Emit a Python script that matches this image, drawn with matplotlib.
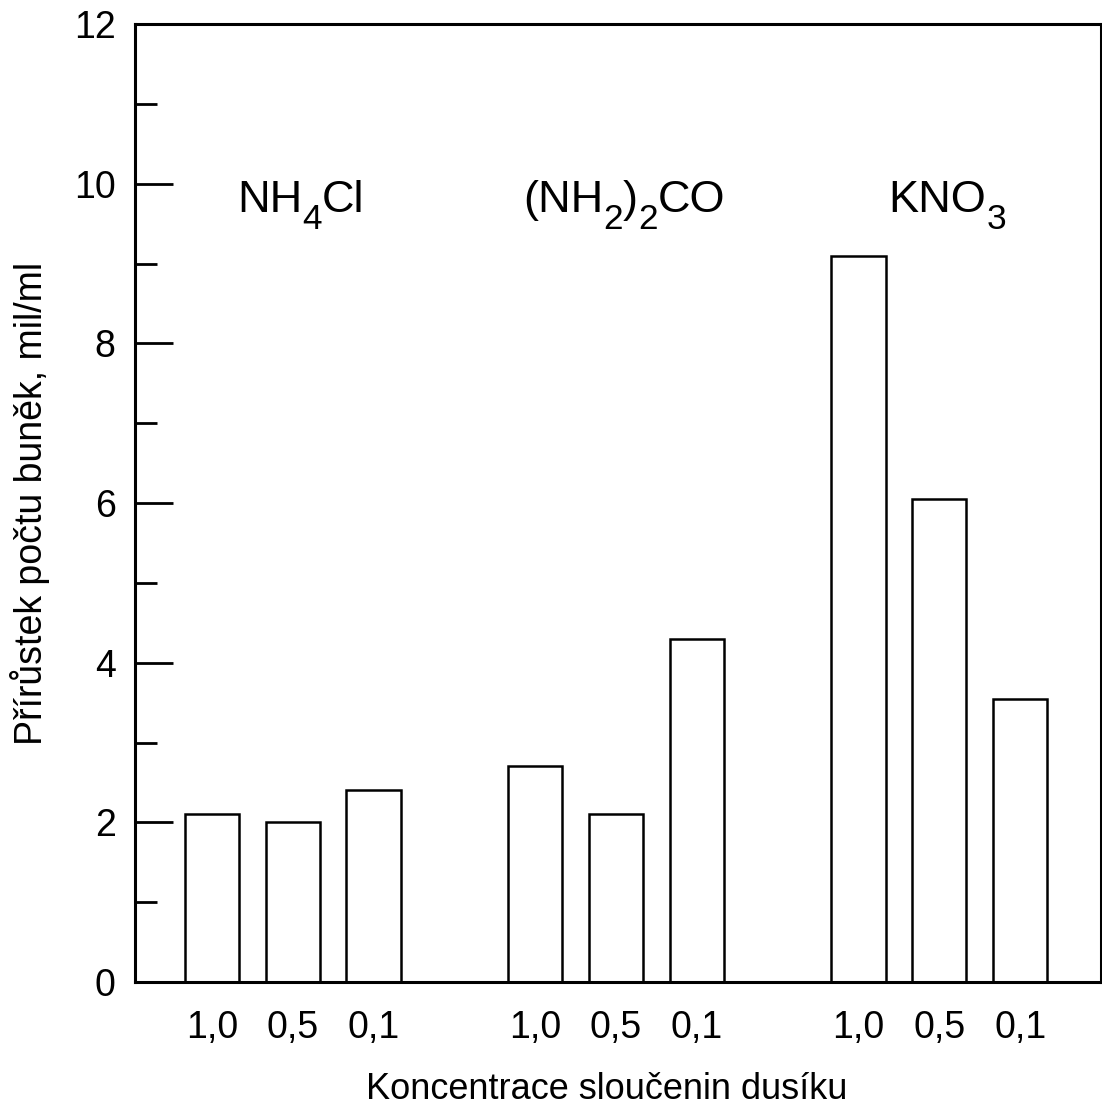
import numpy as np
import matplotlib.pyplot as plt
from matplotlib.transforms import ScaledTranslation

plt.rcParams['font.family'] = ['Liberation Sans', 'DejaVu Sans']

# chemical formulas as (text, is_subscript) pieces
compounds = [
    [('NH', False), ('4', True), ('Cl', False)],
    [('(NH', False), ('2', True), (')', False), ('2', True), ('CO', False)],
    [('KNO', False), ('3', True)],
]
concentrations = ['1,0', '0,5', '0,1']
nh4cl = [2.1, 2.0, 2.4]
urea = [2.7, 2.1, 4.3]
kno3 = [9.1, 6.05, 3.55]
values = [nh4cl, urea, kno3]

fig = plt.figure(figsize=(11.02, 11.10), dpi=100)
ax = fig.add_axes([135 / 1102, 1 - 982 / 1110, 966 / 1102, 958 / 1110])


def chem_label(x, y, parts, size, centre_shift=0):
    r = fig.canvas.get_renderer()
    objs, widths = [], []
    for s, sub in parts:
        t = ax.text(x, y, s, fontsize=size * (0.78 if sub else 1),
                    ha='left', va='baseline')
        objs.append(t)
        widths.append(t.get_window_extent(r).width)
    off = -sum(widths) / 2 + centre_shift
    for t, w, (s, sub) in zip(objs, widths, parts):
        dy = -0.36 * size * fig.dpi / 72 if sub else 0
        t.set_transform(ax.transData + ScaledTranslation(off / fig.dpi, dy / fig.dpi,
                                                         fig.dpi_scale_trans))
        off += w


xs = []
labels = []
for g, vals in enumerate(values):
    pos = g * 4 + np.arange(3)
    ax.bar(pos, vals, width=0.67, color='white', edgecolor='black', linewidth=1.8)
    chem_label(pos[1], 9.64, compounds[g], 32.5, centre_shift=8)
    xs.extend(pos)
    labels.extend(concentrations)

ax.set_xlim(-0.95, 11.0)
ax.set_ylim(0, 12)
ax.set_xticks(xs, labels)
ax.set_yticks(np.arange(0, 13, 2))
ax.set_yticks(np.arange(1, 12, 2), minor=True)
ax.tick_params(axis='x', length=0, pad=20, labelsize=27)
ax.tick_params(axis='y', which='major', direction='in', length=27, width=2,
               labelsize=27, pad=14)
ax.tick_params(axis='y', which='minor', direction='in', length=16, width=2)
for s in ax.spines.values():
    s.set_linewidth(2.2)

ax.set_xlabel('Koncentrace sloučenin dusíku', fontsize=26)
ax.set_ylabel('Přírůstek počtu buněk, mil/ml', fontsize=27)
ax.xaxis.set_label_coords(0.4886, -0.094)
ax.yaxis.set_label_coords(-0.088, 0.5)

fig.savefig('out.png', dpi=100)
